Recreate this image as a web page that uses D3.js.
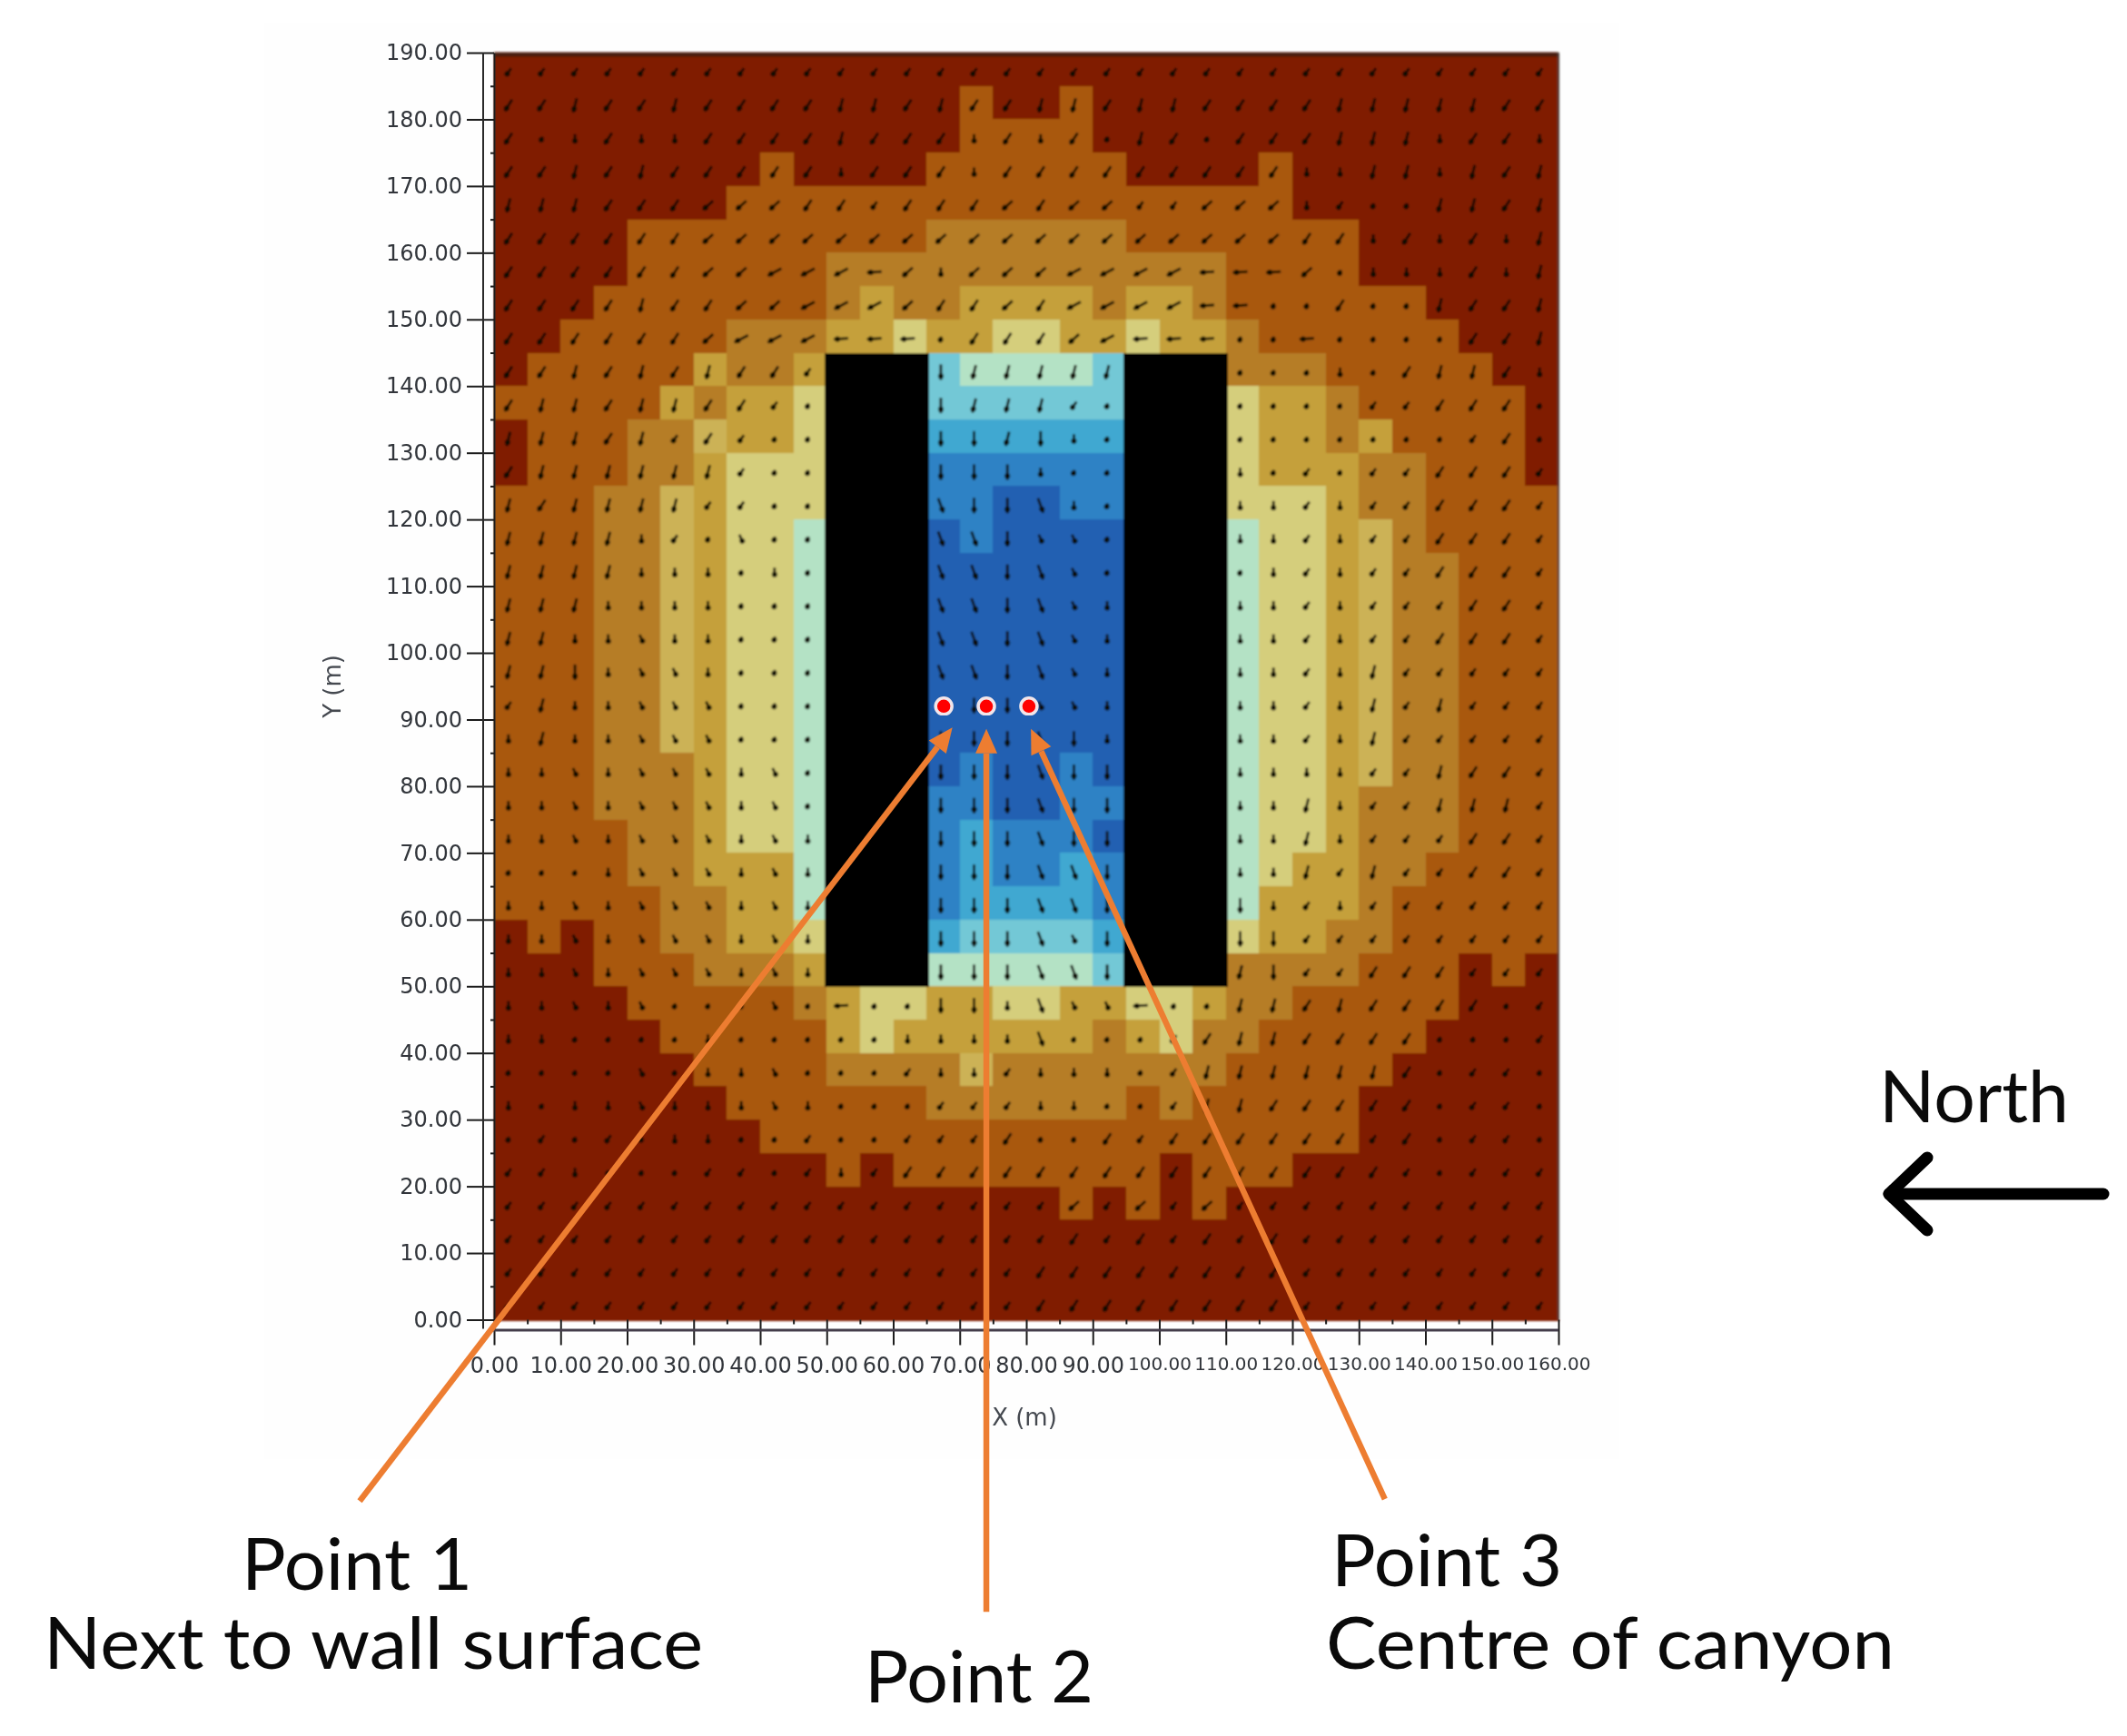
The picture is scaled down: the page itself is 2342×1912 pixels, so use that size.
<!DOCTYPE html>
<html><head><meta charset="utf-8">
<script src="https://cdn.jsdelivr.net/npm/d3@7/dist/d3.min.js"></script>
<style>
html,body{margin:0;padding:0;background:#fff}
svg{display:block}
.tick text{font-family:"DejaVu Sans",sans-serif;font-size:24px;fill:#30353a}
.ann{font-family:Lato,"Noto Sans",sans-serif;fill:#0a0a0a}
.axt{font-family:"DejaVu Sans",sans-serif;font-size:26px;fill:#444850}
</style></head><body>
<svg id="c" width="2342" height="1912"></svg>
<script>
// contour band per 5 m cell, top row first (k = building, a = intermediate band)
const bandRows = [
"00000000000000000000000000000000",
"00000000000000100100000000000000",
"00000000000000111100000000000000",
"00000000100001111110000100000000",
"00000001111111111111111100000000",
"00001111111112222221111111000000",
"00001111112222222222221111000000",
"00011111112322333323321111110000",
"00111112223343344334332111111000",
"0111113223kkk655556kkk2221111100",
"1111132334kkk666666kkk4332111110",
"011122a334kkk777777kkk4332311110",
"0111223444kkk888888kkk4333221110",
"11122a3444kkk889988kkk4443221111",
"11122a3445kkk989999kkk5443a21111",
"11122a3445kkk999999kkk5443a22111",
"11122a3445kkk999999kkk5443a22111",
"11122a3445kkk999999kkk5443a22111",
"11122a3445kkk999999kkk5443a22111",
"11122a3445kkk999999kkk5443a22111",
"11122a3445kkk999999kkk5443a22111",
"1112223445kkk989989kkk5443a22111",
"1112223445kkk889988kkk5443222111",
"1111223445kkk878889kkk5443222111",
"1111223335kkk878878kkk5433221111",
"1111122335kkk877778kkk5333211111",
"0101122334kkk766667kkk4332211111",
"0001112223kkk555556kkk2222111010",
"00001111123443344334432211111000",
"00000111113433333323422111110000",
"00000011112222a22222221111100000",
"00000001111112222221211111000000",
"00000000111111111111111111000000",
"00000000001011111111011100000000",
"00000000000000000101010000000000",
"00000000000000000000000000000000",
"00000000000000000000000000000000",
"00000000000000000000000000000000"
];
const bandColours = {"0":"#801b00","1":"#a9590f","2":"#b67d26","3":"#c5a03b","a":"#ccb257","4":"#d5ce7c","5":"#b4e2c5","6":"#73c8d6","7":"#3fa8d1","8":"#2d82c5","9":"#2360b2","k":"#050505"};

// wind-vector reading per cell: symbol -> [degrees from vertical, length]
const vectorKinds = {".":[20,5],",":[35,10],"/":[33,15],"i":[14,16],"|":[0,17],":":[0,10],"b":[-20,17],"s":[-25,10],"v":[62,17],"e":[48,15],"-":[86,16]};
const vectorRows = [
",,,,,,,,,,,,,,,,,,,,,,,,,,,,,,,,",
"//i//i////ii/i//ii/ii////iiiii//",
"/.:/::////i///:/:/.i/.///iii://:",
"//i/i/////:///://///////::ii:i/i",
"iii///eee//,///e/ee,,eee:,..ii/i",
"//////eeeeeeeeeeeeeeeeee//:/:/:i",
"//////eevvv-e:eeevvvv---e.:::/:i",
"////i//eevvve//e/vvvv--../..i//i",
"//////evvv---.///ev---..-....//i",
"//i/i/i//,xxx|iiiiixxx...:./ii/:",
"/ii/ii//,.xxx|iii,.xxx....,,///.",
"iii/i,/,..xxx||i|:.xxx.......,/.",
"/iiiiii,..xxx|||:..xxx:.,.,,///,",
"i/iiii,,..xxxb||b:.xxx::,:,,///,",
"iiii:,.s..xxxbb|ss.xxx::,:,,///,",
"iiii:::.:.xxxbb|bs.xxx.:,:,,///,",
"iii::::...xxxbb|bs:xxx::,:,,,//,",
"ii::s::...xxxbb|bs:xxx::,:,,///,",
"ii|:ss:...xxxbb|bs:xxx::,:i,,,,,",
",i::sss...xxx|||ss:xxx::,:i,i,,,",
":i::sss...xxx|||b|:xxx::,:i,,,,,",
"::s:sss:s.xxx|||b||xxx::::,,i//,",
"::s:sss:s.xxx|||b||xxx::i:,,iii,",
"::s:sss:s:xxx|||b||xxx::i:,,,//,",
"...:sss:s:xxx|||bb|xxx::i,i,,//,",
"::s:sss:s:xxx|||bb|xxx|:,:,,,,,,",
"::s:sss:s:xxx|||bs|xxx||,,,,,,,,",
"::s:sss:s:xxx|||bb|xxxi|,,///,,,",
"::s:s...s.-..||:bss-..ii/i////.,",
"::....:.....::::b...,/ii////...,",
"....s.::s...,::,:::.,iiiiii/.,,.",
":.::s:::s:...,,,::..,ii/////.,,.",
".,.,.::..,..,,,/../,//////,/.,,.",
",,:...,,.,:,///////////////,.,,,",
",,,,,,,,,,,,,,,,,e,e,e,,,,,,,,,,",
",,,,,,,,,,,,,,,,,/,/,/,/,,,,,,,,",
",,,,,,,,,,,,,,,,////////,,,,,,,,",
",,,,,,,,,,,,,,,,////////,,,,,,,,"
];

const xTicks = [0,10,20,30,40,50,60,70,80,90,100,110,120,130,140,150,160];
const yTicks = [0,10,20,30,40,50,60,70,80,90,100,110,120,130,140,150,160,170,180,190];
const cellSize = 5;
const yTop = 190;
const pointX = [67.6,74,80.4];
const pointY = [92,92,92];
const leaderTail = [[-20.2,-27.2],[74,-43.8],[133.9,-26.9]];
const leaderTip  = [[68.9,88.8],[74,88.6],[80.7,88.6]];
const labelText = ["Point 1","Next to wall surface","Point 2","Point 3","Centre of canyon","North"];
const labelX = [266,48,952,1466,1460,2069];
const labelY = [1751,1838,1875,1747,1838,1236];
const labelW = [254,726,252,254,626,209];

const svg = d3.select("#c");
const x = d3.scaleLinear().domain([0,160]).range([544,1716]);
const y = d3.scaleLinear().domain([0,190]).range([1453.5,58]);

svg.append("rect").attr("x",291).attr("y",25).attr("width",1492).attr("height",1582).attr("fill","#fefefe");

const defs = svg.append("defs");
defs.append("filter").attr("id","soft").attr("x","-5%").attr("y","-5%").attr("width","110%").attr("height","110%")
  .append("feGaussianBlur").attr("stdDeviation",0.9);
defs.append("filter").attr("id","softT").attr("x","-5%").attr("y","-5%").attr("width","110%").attr("height","110%")
  .append("feGaussianBlur").attr("stdDeviation",0.6);

const plot = svg.append("g").attr("filter","url(#soft)");

// cells
const cells = [];
bandRows.forEach((row,r)=>{ row.split("").forEach((b,c)=>cells.push({r,c,b})); });
const cellW = x(cellSize)-x(0), cellH = y(0)-y(cellSize);
plot.append("g").attr("shape-rendering","crispEdges").selectAll("rect").data(cells.filter(d=>d.b!=="k")).join("rect")
  .attr("x",d=>x(d.c*cellSize))
  .attr("y",d=>y(yTop-d.r*cellSize))
  .attr("width",cellW+1)
  .attr("height",cellH+1)
  .attr("fill",d=>bandColours[d.b]);
// building cells sit slightly proud of the grid
plot.append("g").attr("shape-rendering","crispEdges").selectAll("rect").data(cells.filter(d=>d.b==="k")).join("rect")
  .attr("x",d=>x(d.c*cellSize)-2.5)
  .attr("y",d=>y(yTop-d.r*cellSize))
  .attr("width",cellW+5)
  .attr("height",cellH+1)
  .attr("fill",bandColours.k);

// frame
plot.append("line").attr("x1",x(0)).attr("x2",x(160)).attr("y1",y(190)+2).attr("y2",y(190)+2).attr("stroke","#4a1c0c").attr("stroke-width",5);
plot.append("line").attr("x1",x(160)).attr("x2",x(160)).attr("y1",y(190)).attr("y2",y(0)).attr("stroke","#4a3a34").attr("stroke-width",2);

// vectors
const vecs = [];
vectorRows.forEach((row,r)=>{ row.split("").forEach((s,c)=>{ if(vectorKinds[s]) vecs.push({r,c,a:vectorKinds[s][0],l:vectorKinds[s][1]}); }); });
const vg = plot.append("g").selectAll("g").data(vecs).join("g")
  .attr("transform",d=>`translate(${x(d.c*cellSize+cellSize/2)-2.5},${y(yTop-d.r*cellSize-cellSize/2)+3}) rotate(${d.a})`);
vg.append("line").attr("y1",d=>-d.l/2).attr("y2",d=>d.l/2).attr("stroke","#0e0804").attr("stroke-width",2.8);
vg.append("circle").attr("cy",d=>d.l/4).attr("r",3).attr("fill","#0e0804");

// axes
const txt = svg.append("g").attr("filter","url(#softT)");
const axY = d3.axisLeft(y).tickValues(yTicks).tickFormat(d3.format(".2f")).tickSize(30).tickSizeOuter(0).tickPadding(5);
const gy = txt.append("g").attr("transform",`translate(${x(0)},0)`).call(axY);
gy.select(".domain").attr("stroke","#1a1a1a").attr("stroke-width",2);
gy.selectAll(".tick line").attr("stroke","#1a1a1a").attr("stroke-width",2);
txt.append("line").attr("x1",532).attr("x2",532).attr("y1",y(190)).attr("y2",y(0)+10).attr("stroke","#2a2a2a").attr("stroke-width",2);
const yMinor = d3.axisLeft(y).tickValues(yTicks.slice(0,-1).map(v=>v+cellSize)).tickFormat("").tickSize(4).tickSizeOuter(0);
const gym = txt.append("g").attr("transform",`translate(${x(0)},0)`).call(yMinor);
gym.select(".domain").remove(); gym.selectAll(".tick line").attr("stroke","#1a1a1a").attr("stroke-width",2);

const axX = d3.axisBottom(x).tickValues(xTicks).tickFormat(d3.format(".2f")).tickSize(28).tickSizeOuter(0).tickPadding(13);
const gx = txt.append("g").attr("transform",`translate(0,${y(0)})`).call(axX);
gx.select(".domain").remove();
gx.selectAll(".tick line").attr("stroke","#1a1a1a").attr("stroke-width",2);
// three-digit labels are set smaller so neighbours stay legible
gx.selectAll(".tick text").filter(d=>d>=100).style("font-size","20px");
txt.append("line").attr("x1",x(0)-6).attr("x2",x(160)).attr("y1",1465).attr("y2",1465).attr("stroke","#453c4c").attr("stroke-width",3);
const xMinor = d3.axisBottom(x).tickValues(xTicks.slice(0,-1).map(v=>v+cellSize)).tickFormat("").tickSize(5).tickSizeOuter(0);
const gxm = txt.append("g").attr("transform",`translate(0,${y(0)})`).call(xMinor);
gxm.select(".domain").remove(); gxm.selectAll(".tick line").attr("stroke","#1a1a1a").attr("stroke-width",2);

txt.append("text").attr("class","axt").attr("x",1128).attr("y",1570).attr("text-anchor","middle").text("X (m)");
txt.append("text").attr("class","axt").attr("transform","translate(375,756) rotate(-90)").attr("text-anchor","middle").text("Y (m)");

// measurement points
const pts = pointX.map((v,i)=>({x:v,y:pointY[i]}));
svg.append("g").attr("filter","url(#softT)").selectAll("circle").data(pts).join("circle")
  .attr("cx",d=>x(d.x)).attr("cy",d=>y(d.y)).attr("r",9).attr("fill","#f00").attr("stroke","#f2e6ea").attr("stroke-width",3.5);

// orange leaders
const orange = "#ed7d31";
const lead = svg.append("g");
leaderTail.forEach((t,i)=>{
  const x1=x(t[0]),y1=y(t[1]),x2=x(leaderTip[i][0]),y2=y(leaderTip[i][1]);
  const ang=Math.atan2(y2-y1,x2-x1), L=27, W=12;
  const bx=x2-L*Math.cos(ang), by=y2-L*Math.sin(ang);
  lead.append("line").attr("x1",x1).attr("y1",y1).attr("x2",bx).attr("y2",by).attr("stroke",orange).attr("stroke-width",6.5);
  lead.append("path").attr("fill",orange).attr("d",d3.line()([
    [x2,y2],
    [bx-W*Math.sin(ang),by+W*Math.cos(ang)],
    [bx+W*Math.sin(ang),by-W*Math.cos(ang)]
  ])+"Z");
});

// labels
svg.append("g").selectAll("text").data(labelText).join("text")
  .attr("class","ann").attr("x",(d,i)=>labelX[i]).attr("y",(d,i)=>labelY[i])
  .attr("font-size",80).attr("textLength",(d,i)=>labelW[i]).attr("lengthAdjust","spacingAndGlyphs").text(d=>d);

// north arrow
const north = svg.append("g").attr("fill","none").attr("stroke","#000").attr("stroke-width",13).attr("stroke-linecap","round").attr("stroke-linejoin","round");
north.append("path").attr("d",d3.line()([[2316,1315],[2080,1315]]));
north.append("path").attr("d",d3.line()([[2122,1275],[2080,1315],[2122,1355]]));
</script>
</body></html>
